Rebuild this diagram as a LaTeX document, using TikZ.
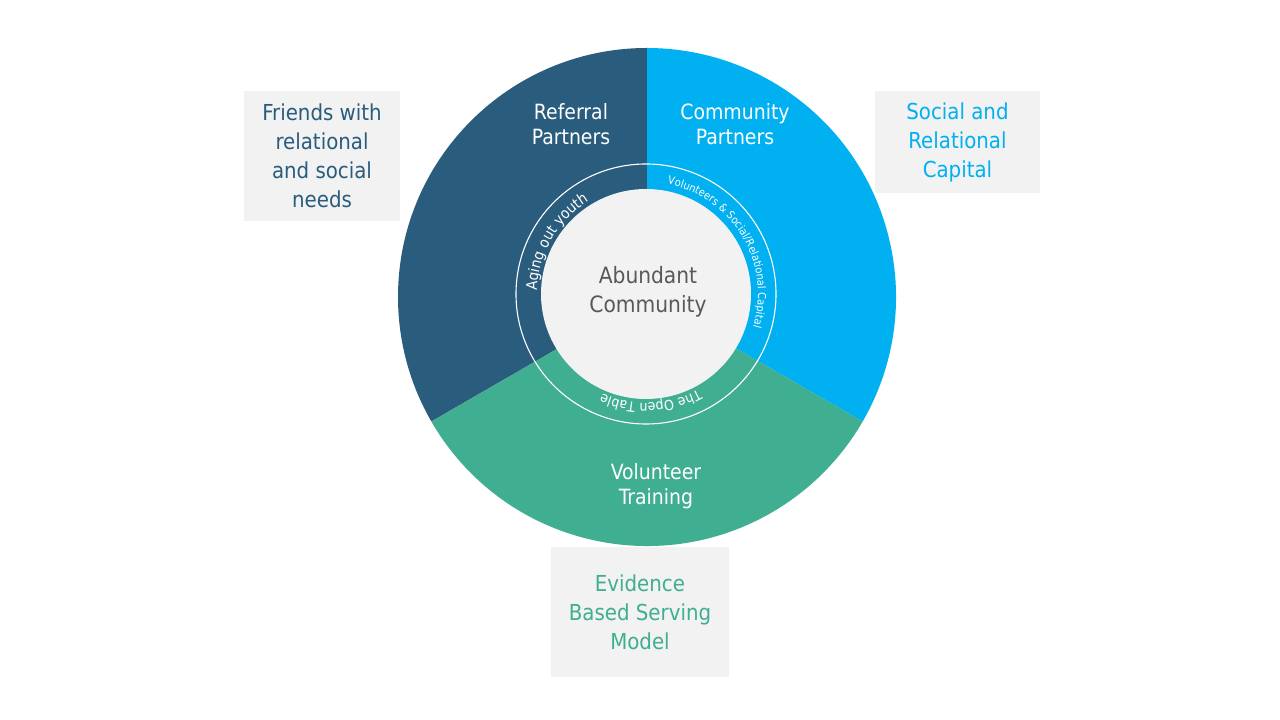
\documentclass[tikz,border=0pt]{standalone}
\usepackage{fontspec}
\setmainfont{DejaVu Sans Condensed}
\usetikzlibrary{decorations.text}

\definecolor{navy}{HTML}{2A5C7D}
\definecolor{skyblue}{HTML}{00B0F0}
\definecolor{seagreen}{HTML}{3FAE91}
\definecolor{panel}{HTML}{F2F2F2}
\definecolor{coretext}{HTML}{595959}

\tikzset{
  infobox/.style={fill=panel, align=center, inner sep=0pt,
    font=\fontsize{22}{29}\selectfont},
  seglabel/.style={text=white, align=center, inner sep=0pt,
    font=\fontsize{21}{25}\selectfont},
  corelabel/.style={text=coretext, align=center, inner sep=0pt,
    font=\fontsize{22.5}{29}\selectfont},
  ringtext/.style={decorate, decoration={text along path, text align=center,
    text color=white, #1}}
}

\begin{document}
\begin{tikzpicture}[x=1pt,y=1pt]
\useasboundingbox[fill=white] (0,0) rectangle (1280,720);

% centres of the outer ring and of the core
\coordinate (oc) at (647,423);
\coordinate (ic) at (646,426);

% three sectors of the wheel
\fill[navy] (oc) -- ++(90:249) arc[start angle=90, end angle=210, radius=249] -- cycle;
\fill[skyblue] (oc) -- ++(-30:249) arc[start angle=-30, end angle=90, radius=249] -- cycle;
\fill[seagreen] (oc) -- ++(210:249) arc[start angle=210, end angle=330, radius=249] -- cycle;

% thin white ring and the core disc
\draw[white, line width=1.1pt] (ic) circle[radius=130];
\fill[panel] (ic) circle[radius=105];

% texts running round the ring
\path[ringtext={text={|\fontsize{15}{17}\selectfont|Aging out youth}}]
  ([shift={(200:109)}]ic) arc[start angle=200, end angle=100, radius=109];
\path[ringtext={text={|\fontsize{11}{13}\selectfont|Volunteers {\&} Social/Relational Capital}}]
  ([shift={(103:112)}]ic) arc[start angle=103, end angle=-41, radius=112];
\path[ringtext={text={|\fontsize{14}{16}\selectfont|The Open Table}}]
  ([shift={(-42:109)}]ic) arc[start angle=-42, end angle=-133, radius=109];

% core and sector labels
\node[corelabel] (core) at (648,428.5) {Abundant\\Community};
\node[seglabel] (referral) at (571,595.5) {Referral\\Partners};
\node[seglabel] (community) at (735,595.5) {Community\\Partners};
\node[seglabel] (training) at (656,233.5) {Volunteer\\Training};

% side boxes
\node[infobox, text=navy, minimum width=156, minimum height=130]
  (friends) at (322,564) {Friends with\\relational\\and social\\needs};
\node[infobox, text=skyblue, minimum width=165, minimum height=102]
  (capital) at (957.5,578) {Social and\\Relational\\Capital};
\node[infobox, text=seagreen, minimum width=178, minimum height=130]
  (evidence) at (640,108) {Evidence\\Based Serving\\Model};
\end{tikzpicture}
\end{document}
